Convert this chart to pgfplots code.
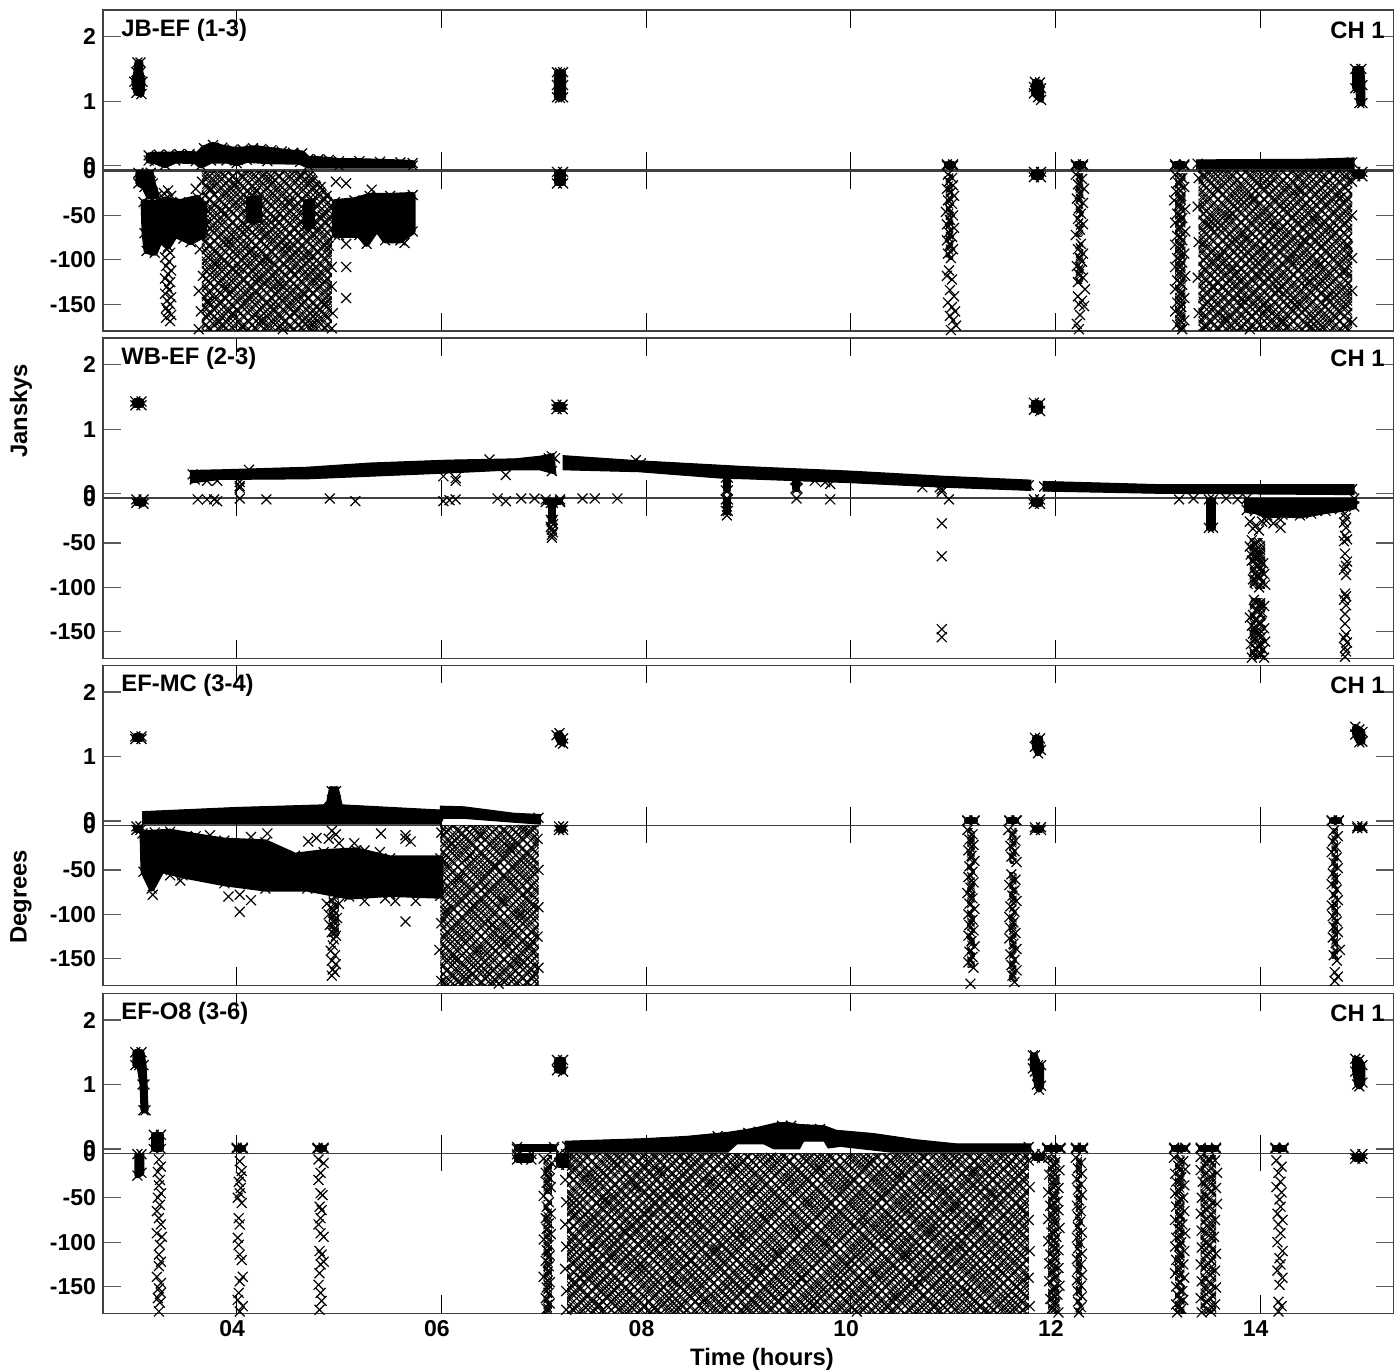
\documentclass[border=0pt]{standalone}
\usepackage{fontspec}
\setmainfont{Liberation Sans}
\usepackage{pgfplots}
\pgfplotsset{compat=1.18}
\usetikzlibrary{patterns.meta}
\newcommand\lf{\fontsize{11.5}{12}\selectfont\bfseries}
\newcommand\lgf{\fontsize{11.9}{12}\selectfont\bfseries}
\pgfplotsset{
 base/.style={scale only axis,width=645.25pt,height=80pt,xmin=2.694,xmax=15.304,
  xtick={4,6,8,10,12,14},xticklabel=\empty,
  axis line style={black!75,line width=.55pt},
  xtick style={black,line width=.4pt},ytick style={black!65,line width=.6pt},
  major tick length=9pt,tick align=inside,
  ticklabel style={font=\lf},xticklabel style={xshift=-2.25pt}},
 amp/.style={base,ymin=-.067,ymax=2.414,ytick={0,1,2},yticklabels={0,1,2}},
 pha/.style={base,ymin=-180,ymax=0,ytick={0,-50,-100,-150},yticklabels={0,-50,-100,-150}},
 pt/.style={only marks,mark=x,mark size=3.5pt,black,line width=.6pt},
 blob/.style={black,fill=black,line width=3pt,line join=round,mark=x,mark size=3.5pt,mark options={solid,line width=.6pt}},
 band/.style={black,fill=black,line width=.5pt,mark=none},
}
\newcommand\hh[3]{\addplot[draw=none,mark=none,pattern={Lines[angle=#1,distance=#2pt,line width=.5pt]}] coordinates {#3} --cycle;}
\newcommand\meshfill[1]{\hh{45}{2.7}{#1}\hh{-45}{2.7}{#1}\hh{45}{3.3}{#1}\hh{-45}{3.3}{#1}\hh{45}{4.1}{#1}\hh{-45}{4.1}{#1}}
\newcommand\mrect[4]{\meshfill{(#1,#3)(#2,#3)(#2,#4)(#1,#4)}}
\newcommand\lab[1]{\node[anchor=west,inner sep=0pt,font=\lgf] at (axis description cs:.014,.875) {#1};
 \node[anchor=east,inner sep=0pt,font=\lgf] at (axis description cs:.9934,.875) {CH 1};}
\begin{document}
\begin{tikzpicture}
\path[use as bounding box] (0,0) rectangle (697pt,685.5pt);
% ---------- JB-EF amplitude
\begin{axis}[amp,at={(51.5pt,600.5pt)},anchor=south west]
\lab{JB-EF (1-3)}
\addplot[blob] coordinates {(3.02,1.13)(3.07,1.11)(3.08,1.3)(3.06,1.45)(3.06,1.6)(3.03,1.6)(3.02,1.45)(3.0,1.3)} --cycle;
\addplot[blob] coordinates {(7.13,1.06)(7.16,1.05)(7.19,1.06)(7.19,1.25)(7.19,1.45)(7.16,1.44)(7.13,1.45)(7.13,1.25)} --cycle;
\addplot[blob] coordinates {(11.79,1.12)(11.83,1.06)(11.86,1.02)(11.86,1.2)(11.85,1.29)(11.8,1.3)(11.79,1.22)} --cycle;
\addplot[blob] coordinates {(14.93,1.2)(14.96,1.2)(14.97,.97)(15,.97)(15,1.25)(14.99,1.5)(14.93,1.5)} --cycle;
\addplot[blob] coordinates {(3.14,.16)(3.24,.17)(3.34,.17)(3.44,.18)(3.54,.18)(3.62,.17)(3.68,.27)(3.77,.32)(3.86,.28)(3.96,.25)(4.06,.25)(4.16,.27)(4.24,.26)(4.34,.24)(4.44,.22)(4.55,.2)(4.64,.19)(4.7,.1)(4.8,.1)(4.9,.09)(5,.07)(5.2,.07)(5.4,.06)(5.6,.05)(5.72,.04)(5.72,0)(5,0)(4.7,0)(4.62,.06)(4.3,.07)(4.1,.09)(4,.04)(3.9,.08)(3.75,.08)(3.65,0)(3.6,.07)(3.4,.08)(3.3,.01)(3.2,.07)(3.14,.08)} --cycle;
\addplot[blob] coordinates {(10.94,0)(11,0)(11,.02)(10.94,.02)} --cycle;
\addplot[blob] coordinates {(12.2,0)(12.27,0)(12.27,.02)(12.2,.02)} --cycle;
\addplot[blob] coordinates {(13.17,0)(13.26,0)(13.26,.02)(13.17,.02)} --cycle;
\addplot[band] coordinates {(13.38,-.05)(14.92,-.05)(14.92,.12)(14.5,.1)(13.38,.09)} --cycle;
\addplot[pt] coordinates {(13.39,.03)(14.9,.05)};
\end{axis}
% ---------- JB-EF phase
\begin{axis}[pha,at={(51.5pt,520pt)},anchor=south west]
\meshfill{(3.66,0)(4.75,0)(4.93,-30)(4.93,-180)(3.66,-180)}
\meshfill{(13.4,0)(14.9,0)(14.9,-180)(13.4,-180)}
\mrect{10.93}{11}{-3}{-100}
\mrect{12.2}{12.27}{-3}{-74}
\mrect{12.2}{12.27}{-80}{-127}
\mrect{13.17}{13.27}{-3}{-180}
\addplot[blob] coordinates {(3.04,-2)(3.16,-2)(3.18,-14)(3.22,-28)(3.14,-28)(3.1,-18)(3.04,-14)} --cycle;
\addplot[blob] coordinates {(3.09,-35)(3.2,-36)(3.3,-32)(3.45,-35)(3.62,-30)(3.68,-40)(3.68,-72)(3.55,-80)(3.48,-76)(3.4,-72)(3.33,-85)(3.25,-78)(3.2,-92)(3.12,-90)(3.1,-70)} --cycle;
\addplot[blob] coordinates {(4.96,-35)(5.15,-33)(5.3,-28)(5.5,-28)(5.72,-27)(5.72,-68)(5.6,-78)(5.45,-78)(5.37,-65)(5.27,-82)(5.2,-72)(5,-72)(4.96,-72)} --cycle;
\addplot[blob] coordinates {(4.68,-35)(4.74,-35)(4.74,-62)(4.68,-62)} --cycle;
\addplot[blob] coordinates {(4.12,-32)(4.22,-32)(4.22,-55)(4.12,-55)} --cycle;
\addplot[blob] coordinates {(7.13,-1)(7.19,-1)(7.19,-14)(7.13,-14)} --cycle;
\addplot[blob] coordinates {(11.79,-1)(11.86,-1)(11.86,-7)(11.79,-7)} --cycle;
\addplot[blob] coordinates {(14.93,-1)(15,-1)(15,-6)(14.93,-6)} --cycle;
\addplot[pt] coordinates {(4.97,-12)(5.07,-14)(5.32,-21)(5.07,-82)(5.07,-108)(5.07,-143)(5.64,-81)(3.33,-22)(3.29,-25)(3.36,-28)(3.6,-20)
(3.32,-88)(3.35,-92)(3.3,-97)(3.34,-102)(3.31,-107)(3.36,-112)(3.33,-116)(3.3,-121)(3.35,-125)(3.32,-130)(3.34,-134)(3.3,-138)(3.36,-142)(3.32,-146)(3.35,-150)(3.31,-154)(3.33,-158)(3.36,-162)(3.35,-169)(3.31,-165)
(3.66,-12)(3.7,-60)(3.64,-88)(3.67,-118)(3.63,-135)(3.65,-158)(3.63,-178)(3.72,-147)(3.75,-20)(3.8,-105)(3.83,-170)(3.86,-44)(3.9,-133)(3.93,-80)(3.96,-160)(3.99,-15)(4.02,-110)(4.05,-175)(4.08,-66)(4.11,-142)(4.14,-90)(4.18,-25)(4.2,-122)(4.24,-168)(4.27,-72)(4.3,-100)(4.33,-10)(4.36,-150)(4.39,-54)(4.42,-128)(4.45,-178)(4.48,-85)(4.51,-35)(4.54,-112)(4.57,-160)(4.6,-70)(4.63,-5)(4.66,-138)(4.7,-95)(4.74,-172)(4.78,-120)(4.82,-18)(4.84,-50)(4.87,-148)(4.9,-84)(4.93,-108)(4.93,-130)(4.94,-160)(4.93,-177)(4.88,-28)(4.72,-12)
(10.95,-4)(10.99,-8)(10.96,-12)(11,-16)(10.94,-20)(10.98,-24)(11.01,-28)(10.95,-33)(10.99,-37)(10.96,-42)(10.93,-46)(11,-50)(10.97,-55)(10.94,-60)(11.01,-64)(10.96,-69)(10.99,-74)(10.94,-78)(10.97,-83)(11,-88)(10.95,-93)(10.98,-98)(10.96,-112)(10.94,-118)(10.99,-122)(10.97,-134)(11.01,-141)(10.95,-148)(10.99,-153)(11.02,-158)(10.97,-163)(11,-168)(11.03,-174)(10.98,-179)
(12.2,-4)(12.26,-9)(12.22,-15)(12.28,-20)(12.24,-26)(12.21,-31)(12.27,-36)(12.23,-42)(12.25,-48)(12.22,-54)(12.27,-60)(12.24,-66)(12.2,-72)(12.25,-82)(12.22,-88)(12.27,-93)(12.24,-98)(12.26,-102)(12.21,-107)(12.25,-111)(12.23,-116)(12.27,-120)(12.22,-125)(12.29,-133)(12.22,-141)(12.26,-146)(12.23,-150)(12.28,-152)(12.24,-162)(12.21,-172)(12.23,-178)
(13.17,-4)(13.24,-8)(13.2,-13)(13.26,-18)(13.18,-23)(13.23,-28)(13.16,-33)(13.21,-38)(13.27,-43)(13.19,-48)(13.24,-53)(13.17,-58)(13.22,-63)(13.27,-68)(13.19,-73)(13.24,-78)(13.17,-83)(13.21,-88)(13.26,-93)(13.19,-98)(13.24,-103)(13.17,-108)(13.22,-113)(13.27,-118)(13.19,-123)(13.24,-128)(13.17,-133)(13.22,-138)(13.26,-143)(13.19,-148)(13.23,-153)(13.17,-158)(13.22,-163)(13.26,-168)(13.19,-173)(13.24,-178)
(13.4,-8)(13.39,-40)(13.4,-80)(13.39,-120)(13.4,-160)(13.47,-175)(13.5,-60)(13.54,-130)(13.58,-20)(13.62,-95)(13.66,-165)(13.7,-50)(13.74,-110)(13.78,-10)(13.82,-145)(13.86,-75)(13.9,-178)(13.94,-32)(13.98,-120)(14.02,-88)(14.06,-155)(14.1,-14)(14.14,-62)(14.18,-135)(14.22,-170)(14.26,-40)(14.3,-100)(14.34,-150)(14.38,-22)(14.42,-78)(14.46,-126)(14.5,-175)(14.54,-56)(14.58,-105)(14.62,-8)(14.66,-142)(14.7,-66)(14.74,-165)(14.78,-30)(14.82,-115)(14.86,-85)(14.9,-12)(14.9,-50)(14.9,-98)(14.9,-135)(14.9,-170)};
\end{axis}
% ---------- WB-EF amplitude
\begin{axis}[amp,at={(51.5pt,436.5pt)},anchor=south west]
\lab{WB-EF (2-3)}
\addplot[blob] coordinates {(3.01,1.37)(3.07,1.37)(3.07,1.43)(3.01,1.43)} --cycle;
\addplot[blob] coordinates {(7.125,1.31)(7.185,1.31)(7.185,1.38)(7.125,1.38)} --cycle;
\addplot[blob] coordinates {(11.79,1.3)(11.85,1.28)(11.85,1.4)(11.79,1.41)} --cycle;
\addplot[band] coordinates {(3.55,.36)(3.84,.37)(4.69,.41)(5.3,.475)(6.06,.52)(6.72,.54)(6.96,.58)(7.1,.62)(7.12,.3)(6.96,.37)(6.72,.37)(6.06,.32)(5.3,.27)(4.69,.23)(3.84,.22)(3.55,.165)} --cycle;
\addplot[band] coordinates {(7.19,.59)(7.93,.51)(8.74,.44)(8.97,.42)(10,.35)(10.91,.27)(11.76,.21)(11.76,.05)(10.91,.1)(10,.17)(8.97,.23)(8.74,.24)(7.93,.34)(7.19,.37)} --cycle;
\addplot[band] coordinates {(11.88,.19)(13.02,.14)(14.92,.14)(14.92,-.015)(13.02,.005)(11.88,.04)} --cycle;
\addplot[blob] coordinates {(8.78,.05)(8.8,.05)(8.8,.25)(8.78,.25)} --cycle;
\addplot[blob] coordinates {(9.46,.08)(9.48,.08)(9.48,.22)(9.46,.22)} --cycle;
\addplot[pt] coordinates {(3.57,.3)(3.59,.22)(3.71,.2)(3.81,.2)(4.03,.18)(4.03,.12)(4.03,.09)(4.12,.37)(6.02,.27)(6.14,.2)(6.14,.24)(6.63,.29)(6.47,.53)(7.08,.58)(7.08,.35)(7.05,.55)(7.11,.55)(7.9,.52)(7.95,.47)(9.8,.15)(9.75,.18)(9.65,.2)(10.7,.1)(10.89,.03)(10.89,.07)(10.87,.1)(11.74,.13)(11.89,.11)(14.9,.07)};
\end{axis}
% ---------- WB-EF phase
\begin{axis}[pha,at={(51.5pt,356.25pt)},anchor=south west]
\mrect{13.9}{14.05}{-45}{-101}
\mrect{13.9}{14.05}{-112}{-180}
\addplot[blob] coordinates {(3.02,-1)(3.09,-1)(3.09,-6)(3.02,-5)} --cycle;
\addplot[blob] coordinates {(7.02,-1)(7.16,-1)(7.16,-4)(7.02,-4)} --cycle;
\addplot[blob] coordinates {(7.07,-5)(7.09,-5)(7.09,-24)(7.07,-24)} --cycle;
\addplot[blob] coordinates {(8.78,-1)(8.8,-1)(8.8,-14)(8.78,-14)} --cycle;
\addplot[blob] coordinates {(11.79,-1)(11.85,-1)(11.85,-6)(11.79,-6)} --cycle;
\addplot[blob] coordinates {(13.5,-1)(13.54,-1)(13.54,-33)(13.5,-33)} --cycle;
\addplot[blob] coordinates {(13.87,0)(14.92,0)(14.92,-9)(14.78,-12)(14.64,-14)(14.5,-17)(14.39,-19)(14.22,-18)(14.07,-19)(13.95,-14)(13.87,-13)} --cycle;
\addplot[pt] coordinates {(3.62,-1)(3.71,-1)(3.78,-1)(3.81,-3)(4.03,0)(4.29,-1)(4.54,1)(4.91,0)(5.16,-3)(6.02,-3)(6.08,-2)(6.14,-1)(6.55,0)(6.63,-3)(6.78,0)(6.91,0)(7.16,-3)(7.38,0)(7.5,0)(7.72,0)(9.47,0)(9.8,-1)(10.7,1)(10.96,-1)(11.38,1)(13.21,-1)(13.35,0)(13.67,0)(13.78,-1)
(7.08,-26)(7.09,-29)(7.07,-32)(7.08,-35)(7.09,-38)(7.08,-41)(7.08,-44)(8.79,-19)
(10.89,-28)(10.89,-65)(10.89,-147)(10.89,-156)(14.2,-33)(14.2,-24)(14.13,-28)
(13.9,-26)(13.96,-30)(14.02,-26)(13.93,-34)(14.06,-25)(13.99,-36)(13.92,-47)(13.95,-51)(13.9,-54)(13.97,-57)(13.93,-60)(13.91,-63)(14,-65)(13.96,-68)(13.92,-70)(14.03,-73)(13.98,-76)(13.94,-79)(14.01,-82)(14.04,-85)(13.97,-88)(13.93,-91)(14.02,-94)(14.05,-97)(13.99,-100)
(13.94,-114)(14,-118)(14.04,-121)(13.97,-125)(14.02,-128)(13.93,-131)(13.9,-134)(13.96,-137)(14.01,-140)(13.92,-143)(14.04,-146)(13.97,-149)(13.93,-152)(14.02,-155)(13.95,-158)(14.05,-161)(13.91,-164)(13.99,-167)(14.03,-170)(13.94,-173)(14,-176)(13.92,-179)(14.04,-179)
(14.83,-17)(14.84,-22)(14.82,-27)(14.84,-33)(14.83,-42)(14.85,-46)(14.82,-48)(14.83,-62)(14.85,-71)(14.84,-76)(14.82,-80)(14.84,-86)
(14.83,-107)(14.84,-110)(14.82,-114)(14.84,-120)(14.83,-130)(14.83,-141)(14.84,-153)(14.82,-157)(14.85,-162)(14.83,-168)(14.84,-172)(14.83,-178)};
\end{axis}
% ---------- EF-MC amplitude
\begin{axis}[amp,at={(51.5pt,272.85pt)},anchor=south west]
\lab{EF-MC (3-4)}
\addplot[blob] coordinates {(3.01,1.27)(3.07,1.27)(3.07,1.31)(3.01,1.31)} --cycle;
\addplot[blob] coordinates {(7.125,1.33)(7.155,1.36)(7.19,1.28)(7.19,1.2)(7.16,1.22)} --cycle;
\addplot[blob] coordinates {(11.8,1.29)(11.85,1.28)(11.86,1.1)(11.83,1.05)(11.8,1.15)} --cycle;
\addplot[blob] coordinates {(14.93,1.46)(14.97,1.42)(15,1.38)(15,1.23)(14.97,1.22)(14.93,1.34)} --cycle;
\addplot[band] coordinates {(3.08,.145)(4,.21)(4.85,.25)(4.88,.3)(4.91,.53)(4.99,.53)(5.03,.25)(5.99,.17)(5.99,-.05)(3.08,-.05)} --cycle;
\addplot[band] coordinates {(5.99,.23)(6.22,.22)(6.71,.12)(6.97,.1)(6.97,-.05)(6.71,-.02)(6.22,.04)(6.02,.04)(5.99,-.05)} --cycle;
\addplot[blob] coordinates {(11.14,0)(11.21,0)(11.21,.01)(11.14,.01)} --cycle;
\addplot[blob] coordinates {(11.55,0)(11.62,0)(11.62,.01)(11.55,.01)} --cycle;
\addplot[blob] coordinates {(14.7,0)(14.77,0)(14.77,.01)(14.7,.01)} --cycle;
\addplot[pt] coordinates {(3.13,.07)(4.93,.46)(4.97,.46)(6.95,.05)};
\end{axis}
% ---------- EF-MC phase
\begin{axis}[pha,at={(51.5pt,192.75pt)},anchor=south west]
\meshfill{(5.99,0)(6.95,0)(6.95,-180)(5.99,-180)}
\mrect{11.14}{11.21}{-3}{-160}
\mrect{11.55}{11.62}{-3}{-43}
\mrect{11.55}{11.62}{-53}{-176}
\mrect{14.7}{14.76}{-3}{-150}
\mrect{4.9}{5}{-80}{-125}
\addplot[blob] coordinates {(3.08,-9)(3.2,-8)(3.35,-7)(3.6,-12)(3.88,-17)(4.28,-19)(4.57,-34)(4.85,-30)(5.17,-28)(5.5,-37)(5.99,-37)(5.99,-79)(5.5,-77)(5.1,-80)(4.69,-71)(4.28,-71)(3.88,-65)(3.47,-56)(3.27,-50)(3.17,-71)(3.09,-52)} --cycle;
\addplot[blob] coordinates {(3.02,-1)(3.06,-1)(3.06,-5)(3.02,-5)} --cycle;
\addplot[blob] coordinates {(7.15,-1)(7.19,-1)(7.19,-5)(7.15,-5)} --cycle;
\addplot[blob] coordinates {(11.8,-2)(11.86,-2)(11.86,-5)(11.8,-5)} --cycle;
\addplot[blob] coordinates {(14.95,-1)(15,-1)(15,-3)(14.95,-3)} --cycle;
\addplot[pt] coordinates {(5.41,-9)(5.65,-11)(5.65,-15)(5.7,-18)(5.65,-108)(4.03,-97)(3.92,-80)(4.03,-78)(4.14,-84)(3.18,-78)(4.3,-9)(4.14,-13)(3.74,-11)(5.15,-20)(4.7,-18)(4.78,-14)(5.25,-85)(5.45,-82)(5.55,-85)(5.75,-85)(5.25,-28)(5.4,-30)(3.45,-62)(3.35,-56)
(4.93,-6)(4.97,-10)(4.9,-15)(5,-20)(4.88,-88)(4.92,-92)(5,-88)(4.95,-96)(4.9,-100)(4.98,-104)(4.94,-108)(4.91,-112)(4.96,-116)(4.93,-120)(4.97,-124)(4.95,-128)(4.94,-135)(4.92,-141)(4.96,-146)(4.93,-152)(4.97,-156)(4.94,-162)(4.96,-165)(4.93,-169)
(6,-8)(6.03,-40)(5.98,-72)(6,-110)(5.98,-140)(6,-175)(6.06,-95)(6.1,-20)(6.13,-150)(6.17,-60)(6.2,-125)(6.24,-172)(6.28,-35)(6.31,-90)(6.35,-140)(6.38,-12)(6.42,-70)(6.45,-165)(6.49,-112)(6.53,-45)(6.56,-178)(6.6,-85)(6.63,-130)(6.67,-25)(6.7,-62)(6.74,-155)(6.77,-100)(6.8,-5)(6.84,-75)(6.87,-135)(6.9,-170)(6.94,-15)(6.95,-50)(6.95,-92)(6.94,-125)(6.95,-160)
(11.14,-5)(11.19,-10)(11.16,-16)(11.2,-22)(11.15,-28)(11.18,-34)(11.21,-40)(11.16,-46)(11.19,-52)(11.15,-58)(11.2,-64)(11.17,-70)(11.14,-76)(11.19,-82)(11.16,-88)(11.21,-94)(11.15,-100)(11.19,-106)(11.16,-112)(11.2,-118)(11.15,-124)(11.18,-130)(11.21,-136)(11.16,-142)(11.19,-148)(11.15,-154)(11.2,-160)(11.17,-178)
(11.54,-5)(11.58,-11)(11.61,-17)(11.56,-23)(11.6,-29)(11.57,-35)(11.62,-41)(11.57,-55)(11.61,-61)(11.55,-67)(11.6,-73)(11.58,-79)(11.62,-85)(11.56,-91)(11.6,-97)(11.55,-103)(11.59,-109)(11.56,-115)(11.61,-121)(11.55,-127)(11.59,-133)(11.62,-139)(11.56,-145)(11.6,-151)(11.57,-157)(11.62,-163)(11.58,-169)(11.6,-176)
(14.72,-6)(14.76,-12)(14.71,-18)(14.74,-24)(14.7,-30)(14.75,-36)(14.72,-42)(14.76,-48)(14.71,-54)(14.74,-60)(14.7,-66)(14.75,-72)(14.72,-78)(14.76,-84)(14.7,-90)(14.74,-96)(14.71,-102)(14.75,-108)(14.72,-114)(14.76,-120)(14.71,-126)(14.74,-132)(14.78,-140)(14.72,-146)(14.75,-152)(14.73,-165)(14.76,-170)(14.73,-175)};
\end{axis}
% ---------- EF-O8 amplitude
\begin{axis}[amp,at={(51.5pt,108.85pt)},anchor=south west]
\lab{EF-O8 (3-6)}
\addplot[blob] coordinates {(3.01,1.5)(3.07,1.5)(3.09,1.3)(3.1,1)(3.11,.6)(3.09,.6)(3.08,1)(3.05,1.3)(3.01,1.3)} --cycle;
\addplot[blob] coordinates {(3.19,0)(3.26,0)(3.26,.22)(3.19,.22)} --cycle;
\addplot[blob] coordinates {(4.0,0)(4.06,0)(4.06,.02)(4,.02)} --cycle;
\addplot[blob] coordinates {(4.79,0)(4.85,0)(4.85,.02)(4.79,.02)} --cycle;
\addplot[blob] coordinates {(6.74,0)(7.1,0)(7.1,.03)(6.74,.03)} --cycle;
\addplot[blob] coordinates {(7.13,1.38)(7.19,1.38)(7.19,1.2)(7.13,1.22)} --cycle;
\addplot[blob] coordinates {(11.78,1.45)(11.8,1.45)(11.83,1.3)(11.86,1.3)(11.86,.98)(11.84,.92)(11.82,1)(11.8,1.2)(11.78,1.25)} --cycle;
\addplot[blob] coordinates {(14.93,1.4)(14.97,1.38)(15,1.3)(15,1.03)(14.97,.97)(14.95,1)(14.93,1.2)} --cycle;
\addplot[band] coordinates {(7.21,.12)(7.98,.16)(8.4,.196)(8.81,.26)(9.05,.32)(9.29,.41)(9.39,.41)(9.5,.38)(9.74,.36)(9.86,.29)(10.22,.24)(10.63,.145)(11.03,.08)(11.76,.08)(11.76,-.05)(10.4,-.05)(9.9,.04)(9.78,.015)(9.74,.12)(9.54,.12)(9.5,.0)(9.25,0)(9.15,.08)(8.89,.08)(8.8,-.05)(7.21,-.05)} --cycle;
\addplot[blob] coordinates {(11.92,0)(12.05,0)(12.05,.02)(11.92,.02)} --cycle;
\addplot[blob] coordinates {(12.2,0)(12.27,0)(12.27,.02)(12.2,.02)} --cycle;
\addplot[blob] coordinates {(13.16,0)(13.27,0)(13.27,.02)(13.16,.02)} --cycle;
\addplot[blob] coordinates {(13.42,0)(13.57,0)(13.57,.02)(13.42,.02)} --cycle;
\addplot[blob] coordinates {(14.15,0)(14.23,0)(14.23,.02)(14.15,.02)} --cycle;
\addplot[pt] coordinates {(7.23,.04)(11.74,.03)(9.33,.36)(9.42,.36)(9.62,.3)(9.7,.31)(9.1,.27)(9.0,.25)(8.7,.2)};
\end{axis}
% ---------- EF-O8 phase
\begin{axis}[pha,at={(51.5pt,28.85pt)},anchor=south west,
 xticklabel={\pgfmathparse{int(\tick)}\ifnum\pgfmathresult<10 0\fi\pgfmathresult}]
\meshfill{(7.23,0)(11.74,0)(11.74,-180)(7.23,-180)}
\mrect{7.0}{7.08}{-3}{-45}
\mrect{7.0}{7.08}{-53}{-180}
\mrect{11.93}{12.04}{-3}{-180}
\mrect{12.2}{12.26}{-3}{-180}
\mrect{13.17}{13.26}{-3}{-180}
\mrect{13.42}{13.57}{-3}{-180}
\addplot[blob] coordinates {(3.03,-1)(3.07,-1)(3.07,-22)(3.03,-25)} --cycle;
\addplot[blob] coordinates {(6.74,-1)(6.88,-1)(6.88,-7)(6.74,-7)} --cycle;
\addplot[blob] coordinates {(7.15,-1)(7.22,-1)(7.22,-13)(7.15,-13)} --cycle;
\addplot[blob] coordinates {(11.8,-1)(11.87,-1)(11.87,-5)(11.8,-5)} --cycle;
\addplot[blob] coordinates {(14.93,-1)(15,-1)(15,-6)(14.93,-6)} --cycle;
\addplot[pt] coordinates {(3.24,-7)(3.26,-15)(3.23,-21)(3.25,-30)(3.24,-36)(3.26,-45)(3.23,-50)(3.25,-58)(3.22,-65)(3.24,-73)(3.26,-80)(3.22,-90)(3.27,-94)(3.25,-103)(3.24,-114)(3.26,-122)(3.24,-127)(3.22,-139)(3.26,-146)(3.24,-152)(3.26,-157)(3.23,-163)(3.25,-168)(3.24,-178)
(4.03,-9)(4.05,-20)(4.04,-26)(4.02,-32)(4.04,-39)(4.03,-45)(4.01,-50)(4.05,-56)(4.02,-73)(4.03,-80)(4.01,-95)(4.02,-103)(4.03,-114)(4.05,-120)(4.06,-139)(4.03,-144)(4.02,-157)(4.01,-165)(4.06,-172)(4.03,-178)
(4.8,-7)(4.85,-11)(4.82,-22)(4.8,-30)(4.82,-45)(4.84,-47)(4.81,-60)(4.83,-64)(4.82,-73)(4.8,-80)(4.82,-90)(4.85,-94)(4.81,-110)(4.83,-114)(4.85,-122)(4.82,-125)(4.81,-135)(4.8,-148)(4.82,-157)(4.83,-166)(4.81,-176)
(7,-6)(7.08,-11)(7.05,-17)(7.02,-22)(7.06,-28)(7.03,-33)(7.07,-38)(7.04,-43)(7,-48)(7.05,-55)(7.03,-60)(7.07,-68)(7.02,-73)(7.05,-79)(7.03,-85)(7.07,-91)(7,-97)(7.05,-103)(7.03,-109)(7.06,-115)(7.02,-121)(7.05,-127)(7.04,-133)(7,-139)(7.06,-145)(7.03,-151)(7.05,-157)(7.02,-163)(7.06,-169)(7.03,-175)
(7.22,-8)(7.21,-30)(7.22,-55)(7.21,-80)(7.22,-105)(7.21,-130)(7.22,-155)(7.22,-176)(7.3,-70)(7.36,-140)(7.42,-25)(7.48,-105)(7.54,-170)(7.6,-52)(7.66,-118)(7.72,-12)(7.78,-88)(7.84,-155)(7.9,-38)(7.96,-128)(8.02,-66)(8.08,-175)(8.14,-20)(8.2,-98)(8.26,-145)(8.32,-48)(8.38,-8)(8.44,-122)(8.5,-80)(8.56,-165)(8.62,-32)(8.68,-108)(8.74,-60)(8.8,-150)(8.86,-15)(8.92,-92)(8.98,-175)(9.04,-42)(9.1,-130)(9.16,-72)(9.22,-5)(9.28,-112)(9.34,-160)(9.4,-28)(9.46,-85)(9.52,-140)(9.58,-55)(9.64,-172)(9.7,-18)(9.76,-100)(9.82,-65)(9.88,-150)(9.94,-35)(10,-120)(10.06,-178)(10.12,-78)(10.18,-10)(10.24,-135)(10.3,-48)(10.36,-95)(10.42,-162)(10.48,-25)(10.54,-115)(10.6,-70)(10.66,-145)(10.72,-5)(10.78,-88)(10.84,-170)(10.9,-40)(10.96,-125)(11.02,-60)(11.08,-105)(11.14,-155)(11.2,-20)(11.26,-80)(11.32,-175)(11.38,-45)(11.44,-130)(11.5,-92)(11.56,-12)(11.62,-150)(11.68,-65)(11.74,-8)(11.75,-38)(11.74,-75)(11.75,-110)(11.74,-140)(11.75,-172)
(11.93,-5)(12,-10)(11.96,-15)(12.04,-19)(11.94,-24)(12,-29)(11.98,-34)(12.03,-39)(11.93,-44)(11.98,-49)(12.02,-54)(11.95,-59)(12.03,-64)(11.97,-69)(11.93,-74)(12,-79)(12.04,-84)(11.96,-89)(12.01,-94)(11.93,-99)(11.98,-104)(12.03,-109)(11.95,-114)(12,-119)(11.94,-124)(12.03,-129)(11.97,-134)(12.01,-139)(11.94,-144)(12.04,-149)(11.98,-154)(12.02,-159)(11.95,-164)(12,-169)(11.97,-174)(12.03,-179)
(12.2,-5)(12.25,-11)(12.22,-17)(12.26,-23)(12.21,-29)(12.25,-35)(12.22,-41)(12.26,-47)(12.23,-53)(12.21,-59)(12.25,-65)(12.22,-71)(12.24,-77)(12.22,-83)(12.26,-89)(12.21,-95)(12.24,-101)(12.22,-107)(12.26,-113)(12.21,-119)(12.25,-125)(12.22,-131)(12.26,-137)(12.21,-143)(12.25,-149)(12.22,-155)(12.26,-161)(12.22,-167)(12.25,-173)(12.23,-179)
(13.16,-5)(13.25,-9)(13.2,-14)(13.27,-18)(13.17,-23)(13.23,-27)(13.18,-32)(13.26,-36)(13.2,-41)(13.17,-45)(13.25,-50)(13.21,-55)(13.18,-60)(13.26,-65)(13.22,-70)(13.17,-75)(13.24,-80)(13.2,-85)(13.27,-90)(13.18,-95)(13.23,-100)(13.17,-105)(13.26,-110)(13.21,-115)(13.18,-120)(13.25,-125)(13.2,-130)(13.17,-135)(13.26,-140)(13.22,-145)(13.18,-150)(13.24,-155)(13.2,-160)(13.25,-165)(13.18,-170)(13.23,-175)(13.19,-179)
(13.42,-4)(13.5,-6)(13.56,-8)(13.42,-19)(13.58,-22)(13.44,-32)(13.57,-39)(13.43,-50)(13.58,-57)(13.42,-68)(13.56,-75)(13.43,-87)(13.55,-94)(13.43,-106)(13.57,-113)(13.42,-125)(13.56,-132)(13.43,-144)(13.57,-151)(13.42,-163)(13.56,-170)(13.43,-179)(13.52,-178)
(14.16,-8)(14.21,-15)(14.18,-22)(14.2,-32)(14.16,-38)(14.21,-44)(14.19,-52)(14.2,-60)(14.17,-68)(14.22,-75)(14.18,-80)(14.2,-90)(14.17,-100)(14.22,-110)(14.19,-118)(14.2,-125)(14.17,-132)(14.22,-140)(14.19,-148)(14.18,-167)(14.21,-172)(14.18,-178)};
\end{axis}
\node[rotate=90,font=\lgf] at (10.5pt,480pt) {Janskys};
\node[rotate=90,font=\lgf] at (10.5pt,237pt) {Degrees};
\node[font=\lgf] at (381pt,6pt) {Time (hours)};
\end{tikzpicture}
\end{document}
